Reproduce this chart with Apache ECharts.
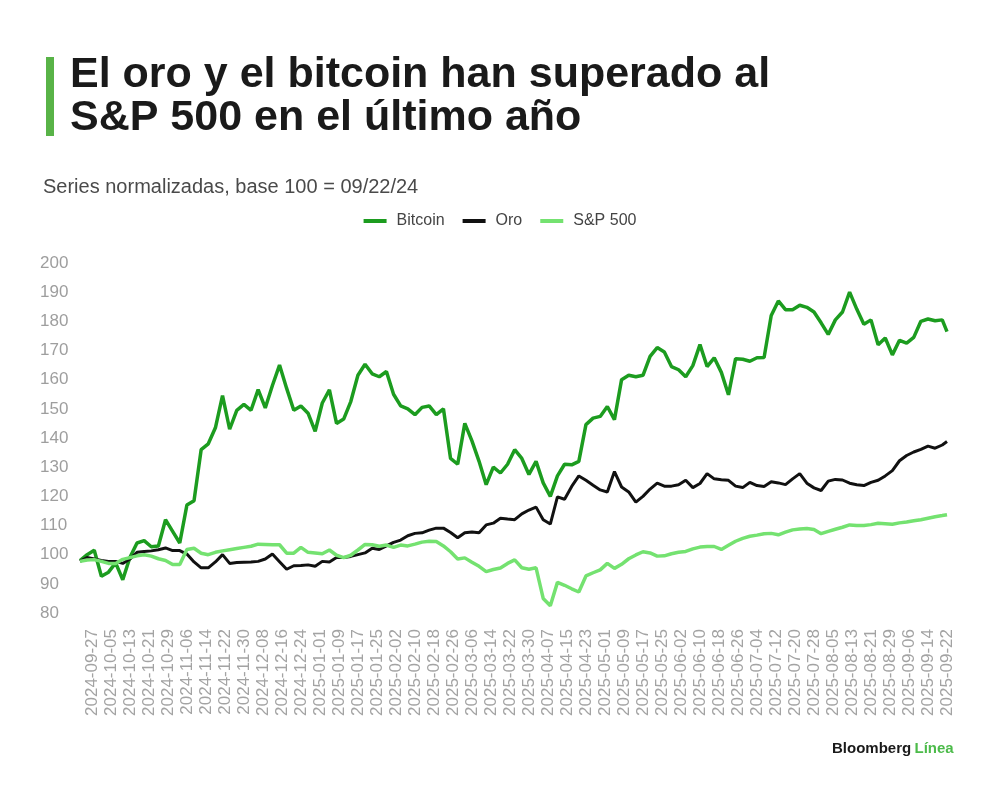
<!DOCTYPE html>
<html>
<head>
<meta charset="utf-8">
<script src="https://cdn.jsdelivr.net/npm/echarts@6/dist/echarts.min.js"></script>
<style>
  html, body { margin: 0; padding: 0; background: #ffffff; }
  #chart { width: 1000px; height: 790px; }
</style>
</head>
<body>
<div id="chart"></div>
<script>
// ---- Data (normalized, base 100) sampled every 3 days from 2024-09-22 ----
const START_DATE = '2024-09-22';
const DAY_COUNT = 366;          // 2024-09-22 .. 2025-09-22
const STEP = 3;                 // one reading every 3 days (last reading = last day)

const seriesNames = ['Bitcoin', 'Oro', 'S&P 500'];

const bitcoin = [
  98, 100, 101.5, 92.6, 94, 97.2, 91.4, 99, 104, 104.8,
  102.7, 103, 112, 108, 104, 117, 118.5, 136, 138, 143.5,
  154.5, 143, 149.5, 151.5, 149.5, 156.6, 150.3, 158, 165, 157,
  149.5, 151, 148.5, 142.3, 152, 156.5, 145, 146.5, 152.5, 161.5,
  165.3, 162, 161, 162.8, 155, 151, 150, 148, 150.5, 151,
  148, 150, 133, 131, 145, 139, 132, 124, 130, 128,
  131, 136, 133, 127.5, 132, 124.6, 120, 127, 131, 130.8,
  132, 144.6, 146.8, 147.4, 150.8, 146.3, 160, 161.5, 161, 161.5,
  168, 171, 169.5, 164.5, 163.4, 161, 164.8, 172, 164.5, 167.5,
  162.5, 154.8, 167.2, 167, 166.3, 167.5, 167.6, 182, 187, 184,
  184, 185.5, 184.8, 183.2, 179.5, 175.5, 180.5, 183.2, 190, 184.2,
  179, 180.5, 172, 174.3, 168.5, 173.5, 172.5, 174.5, 180, 180.8,
  180.2, 180.5, 176.5
];

const oro = [
  97.7, 99, 98.5, 98, 97.7, 97.7, 97, 98.5, 100.8, 101.1,
  101.3, 101.7, 102.3, 101.4, 101.4, 100.2, 97.5, 95.5, 95.5, 97.5,
  100, 97, 97.3, 97.4, 97.5, 97.7, 98.5, 100.2, 97.6, 95,
  96.2, 96.3, 96.5, 96, 97.7, 97.5, 99, 99, 99.4, 100,
  100.6, 102.2, 101.8, 103, 104.2, 105, 106.5, 107.3, 107.5, 108.4,
  109.1, 109.1, 107.6, 105.8, 107.5, 107.8, 107.5, 110.2, 110.8, 112.5,
  112.2, 112, 114, 115.3, 116.3, 112, 110.5, 119.8, 119, 123.4,
  127, 125.5, 123.8, 122.2, 121.5, 128.5, 123.2, 121.5, 118, 120,
  122.5, 124.5, 123.5, 123.5, 124, 125.5, 123, 124.4, 127.8, 126,
  125.7, 125.5, 123.5, 123, 124.8, 123.7, 123.4, 125, 124.6, 124,
  126, 127.8, 124.5, 122.9, 122, 125.2, 125.8, 125.6, 124.5, 124,
  123.7, 124.8, 125.5, 127, 128.8, 132.2, 134, 135.2, 136.1, 137.2,
  136.5, 137.6, 138.8
];

const sp500 = [
  97.7, 98.2, 98.3, 97.7, 97, 97, 98.4, 99, 99.6, 100,
  99.5, 98.6, 98, 96.6, 96.6, 101.8, 102.2, 100.5, 100, 100.8,
  101.3, 101.7, 102.1, 102.5, 102.9, 103.6, 103.5, 103.4, 103.4, 100.5,
  100.5, 102.5, 100.8, 100.6, 100.3, 101.6, 99.8, 99, 99.8, 101.6,
  103.5, 103.4, 102.9, 103.3, 102.5, 103.3, 103, 103.6, 104.3, 104.6,
  104.5, 103, 101, 98.5, 98.9, 97.4, 96, 94.2, 94.9, 95.4,
  97, 98.2, 95.5, 95, 95.5, 85, 82.5, 90.5, 89.5, 88.3,
  87.2, 92.7, 93.8, 94.8, 97, 95.3, 96.7, 98.6, 99.9, 101,
  100.6, 99.5, 99.6, 100.3, 100.8, 101.1, 102, 102.6, 102.8, 102.8,
  101.8, 103.2, 104.6, 105.6, 106.3, 106.7, 107.2, 107.3, 106.8, 107.7,
  108.5, 108.8, 109, 108.6, 107.2, 108, 108.7, 109.4, 110.2, 110,
  110, 110.3, 110.8, 110.6, 110.4, 110.9, 111.2, 111.6, 112, 112.5,
  113, 113.4, 113.7
];

const yTicks = { min: 80, max: 200, interval: 10 };
const FIRST_LABEL_INDEX = 5;    // 2024-09-27
const LABEL_EVERY = 8;          // every 8 days

// ---- Categories: every calendar day ----
const categories = [];
(function () {
  const p = START_DATE.split('-').map(Number);
  const t0 = Date.UTC(p[0], p[1] - 1, p[2]);
  for (let i = 0; i < DAY_COUNT; i++) {
    const d = new Date(t0 + i * 86400000);
    const mm = String(d.getUTCMonth() + 1).padStart(2, '0');
    const dd = String(d.getUTCDate()).padStart(2, '0');
    categories.push(d.getUTCFullYear() + '-' + mm + '-' + dd);
  }
})();

function toPairs(values) {
  return values.map((v, k) => [Math.min(k * STEP, DAY_COUNT - 1), v]);
}

const colors = ['#1c9c1f', '#111111', '#74e270'];
const FONT = '"Liberation Sans", Arial, sans-serif';

const chart = echarts.init(document.getElementById('chart'), null, { renderer: 'canvas' });
chart.setOption({
  animation: false,
  backgroundColor: '#ffffff',
  color: colors,
  textStyle: { fontFamily: FONT },
  graphic: [
    { type: 'rect', left: 46, top: 57, shape: { width: 8, height: 79 }, style: { fill: '#58b347' } },
    {
      type: 'text', left: 70, top: 54,
      style: {
        text: 'El oro y el bitcoin han superado al\nS&P 500 en el último año',
        fontSize: 43, fontWeight: 'bold', fontFamily: FONT, lineHeight: 43, fill: '#1a1a1a'
      }
    },
    {
      type: 'text', left: 43, top: 177,
      style: {
        text: 'Series normalizadas, base 100 = 09/22/24',
        fontSize: 20, fontFamily: FONT, lineHeight: 20, fill: '#4a4a4a'
      }
    },
    {
      type: 'text', left: 832, top: 741,
      style: {
        text: '{a|Bloomberg} {b|Línea}',
        rich: {
          a: { fontSize: 15, fontWeight: 'bold', fontFamily: FONT, fill: '#1a1a1a', color: '#1a1a1a' },
          b: { fontSize: 15, fontWeight: 'bold', fontFamily: FONT, fill: '#4cbb4a', color: '#4cbb4a' }
        }
      }
    }
  ],
  legend: {
    top: 208,
    left: 'center',
    icon: 'rect',
    itemWidth: 23,
    itemHeight: 4,
    itemGap: 18,
    data: seriesNames,
    textStyle: { fontSize: 16, color: '#444444', fontFamily: FONT, padding: [0, 0, 0, 5] }
  },
  grid: { left: 80, right: 53, top: 263, bottom: 177, containLabel: false },
  xAxis: {
    type: 'category',
    data: categories,
    boundaryGap: false,
    axisLine: { show: false },
    axisTick: { show: false },
    splitLine: { show: false },
    axisLabel: {
      rotate: 90,
      margin: 16,
      fontSize: 17,
      color: '#a3a3a3',
      fontFamily: FONT,
      interval: function (index) {
        return index >= FIRST_LABEL_INDEX && (index - FIRST_LABEL_INDEX) % LABEL_EVERY === 0;
      }
    }
  },
  yAxis: {
    type: 'value',
    min: yTicks.min,
    max: yTicks.max,
    interval: yTicks.interval,
    axisLine: { show: false },
    axisTick: { show: false },
    splitLine: { show: false },
    axisLabel: { align: 'left', margin: 40, fontSize: 17, color: '#9e9e9e', fontFamily: FONT }
  },
  series: [
    { name: seriesNames[0], type: 'line', data: toPairs(bitcoin), symbol: 'none', lineStyle: { width: 3.5, color: colors[0] }, itemStyle: { color: colors[0] } },
    { name: seriesNames[1], type: 'line', data: toPairs(oro), symbol: 'none', lineStyle: { width: 3, color: colors[1] }, itemStyle: { color: colors[1] } },
    { name: seriesNames[2], type: 'line', data: toPairs(sp500), symbol: 'none', lineStyle: { width: 3.5, color: colors[2] }, itemStyle: { color: colors[2] } }
  ]
});
</script>
</body>
</html>
